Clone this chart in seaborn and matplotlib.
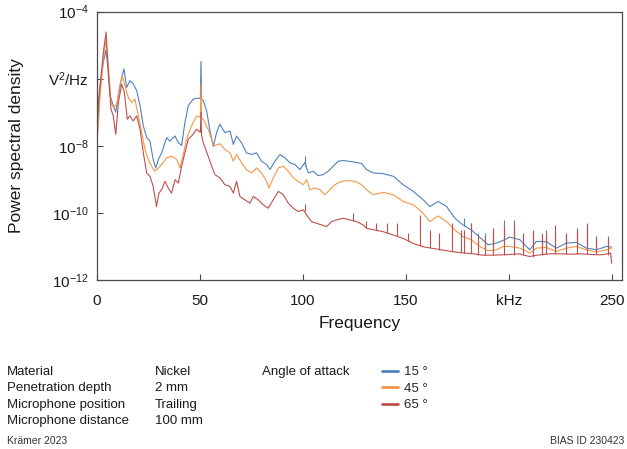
import numpy as np
import pandas as pd
import matplotlib
matplotlib.use('Agg')
import matplotlib.pyplot as plt
import seaborn as sns

# --- data (log10 of PSD in V^2/Hz) ---
angles = ['15 °', '45 °', '65 °']
colors = ['#4f81bd', '#f79646', '#c0504d']

freq_15 = [0.0, 0.5, 1.5, 3.1, 4.4, 5.5, 6.3, 7.9, 9.1, 10.4,
           12.0, 13.1, 14.4, 16.0, 17.6, 19.3, 20.9, 22.5, 24.1, 25.7,
           27.3, 28.5, 29.8, 31.4, 33.8, 35.4, 37.9, 39.5, 41.1, 42.7,
           44.3, 46.7, 49.2, 50.2, 50.5, 50.8, 51.6, 53.2, 54.9, 56.5,
           58.1, 59.7, 62.1, 64.6, 66.2, 67.8, 70.2, 72.6, 75.1, 77.5,
           79.9, 82.4, 84.0, 86.4, 88.9, 91.3, 93.7, 96.1, 98.6, 101.0,
           102.6, 105.0, 107.4, 109.9, 112.3, 114.7, 117.2, 119.6, 122.0, 125.3,
           128.5, 130.9, 134.1, 139.0, 143.9, 148.7, 153.6, 158.4, 161.7, 165.7,
           169.8, 173.8, 177.8, 181.9, 185.9, 190.0, 194.0, 197.3, 200.5, 205.4,
           210.2, 213.4, 218.3, 223.1, 228.0, 232.8, 237.7, 242.6, 247.4, 250.0]
lg_15 = [-8.0, -7.1, -6.2, -5.5, -5.16, -5.8, -6.5, -6.8, -7.0, -6.5,
         -5.96, -5.71, -6.26, -6.06, -6.16, -6.36, -6.81, -7.41, -7.75, -7.86,
         -8.41, -8.66, -8.41, -8.21, -7.76, -7.86, -7.71, -7.91, -7.99, -7.31,
         -6.81, -6.61, -6.58, -6.6, -5.49, -6.62, -6.65, -6.95, -7.56, -8.02,
         -7.6, -7.36, -7.61, -7.56, -7.96, -7.71, -7.91, -8.21, -8.26, -8.21,
         -8.46, -8.56, -8.71, -8.46, -8.26, -8.36, -8.51, -8.56, -8.71, -8.5,
         -8.81, -8.76, -8.89, -8.86, -8.76, -8.61, -8.46, -8.44, -8.46, -8.49,
         -8.53, -8.71, -8.81, -8.83, -8.91, -9.16, -9.36, -9.61, -9.81, -9.66,
         -9.81, -10.16, -10.36, -10.51, -10.73, -10.95, -10.9, -10.82, -10.72, -10.8,
         -11.1, -10.85, -10.86, -11.05, -10.9, -10.88, -11.05, -11.1, -11.0, -11.02]

freq_45 = [0.0, 0.5, 1.5, 3.1, 4.4, 5.5, 6.8, 7.9, 9.6, 11.2,
           12.3, 13.6, 15.2, 16.8, 18.4, 20.1, 21.7, 23.3, 24.9, 26.5,
           28.1, 29.8, 31.4, 33.8, 36.2, 38.7, 40.3, 41.9, 43.5, 45.9,
           48.4, 50.2, 50.5, 50.8, 51.6, 54.0, 56.5, 57.3, 59.7, 62.1,
           64.6, 66.2, 67.8, 70.2, 72.6, 75.1, 77.5, 79.9, 82.4, 83.5,
           85.6, 88.1, 90.5, 92.9, 95.3, 97.7, 100.2, 101.8, 103.4, 105.8,
           108.3, 110.7, 113.1, 115.5, 118.8, 122.0, 125.3, 128.5, 130.9, 134.1,
           139.0, 143.9, 148.7, 153.6, 157.6, 161.7, 165.7, 169.8, 173.8, 177.8,
           181.9, 185.9, 190.0, 194.0, 197.3, 200.5, 205.4, 210.2, 213.4, 218.3,
           223.1, 228.0, 232.8, 237.7, 242.6, 247.4, 250.0]
lg_45 = [-7.9, -7.5, -6.51, -5.41, -4.85, -5.61, -6.70, -6.86, -6.76, -6.16,
         -5.91, -6.21, -6.56, -6.71, -6.61, -7.11, -7.61, -8.11, -8.41, -8.61,
         -8.76, -8.66, -8.56, -8.36, -8.31, -8.41, -8.66, -8.26, -7.81, -7.41,
         -7.11, -7.15, -6.16, -7.2, -7.21, -7.51, -7.96, -7.99, -7.94, -8.11,
         -8.21, -8.46, -8.26, -8.51, -8.71, -8.81, -8.66, -8.81, -9.06, -9.26,
         -8.96, -8.66, -8.61, -8.76, -8.96, -9.06, -9.16, -9.01, -9.31, -9.26,
         -9.31, -9.46, -9.31, -9.16, -9.06, -9.04, -9.06, -9.16, -9.31, -9.46,
         -9.39, -9.46, -9.66, -9.76, -9.96, -10.26, -10.09, -10.26, -10.51, -10.71,
         -10.81, -11.0, -11.13, -11.1, -11.0, -11.0, -11.05, -11.2, -11.05, -11.03,
         -11.15, -11.05, -11.0, -11.1, -11.17, -11.1, -11.05]

freq_65 = [0.0, 0.5, 1.5, 3.1, 4.4, 5.5, 6.8, 7.9, 9.1, 10.4,
           12.0, 13.3, 14.7, 16.0, 17.6, 19.3, 20.9, 22.5, 24.1, 25.7,
           27.3, 28.9, 30.1, 31.4, 33.0, 34.6, 36.2, 37.9, 39.5, 41.1,
           42.7, 44.3, 46.7, 48.4, 50.2, 50.5, 50.8, 51.6, 54.0, 55.7,
           57.3, 59.7, 62.1, 64.6, 66.2, 67.8, 69.4, 71.8, 74.3, 75.9,
           78.3, 80.7, 83.2, 85.6, 88.1, 90.5, 92.9, 95.3, 97.7, 100.2,
           101.8, 104.2, 106.6, 109.1, 111.5, 113.9, 116.4, 119.6, 122.8, 126.1,
           129.3, 130.9, 134.9, 139.0, 143.9, 148.7, 153.6, 158.4, 163.3, 168.2,
           173.0, 177.8, 182.7, 187.5, 192.4, 200.5, 205.0, 210.0, 215.0, 220.0,
           225.0, 230.0, 235.0, 240.0, 245.0, 249.5, 250.0]
lg_65 = [-7.7, -6.8, -6.21, -5.21, -4.61, -5.81, -6.91, -7.11, -7.66, -6.71,
         -6.16, -6.41, -7.21, -7.11, -7.26, -7.11, -7.51, -8.21, -8.81, -8.91,
         -9.21, -9.81, -9.41, -9.31, -9.06, -9.26, -9.41, -9.01, -9.11, -8.61,
         -8.21, -7.81, -7.66, -7.51, -7.6, -7.0, -7.7, -7.91, -8.31, -8.61,
         -8.86, -8.96, -9.16, -9.21, -9.41, -9.06, -9.51, -9.61, -9.71, -9.51,
         -9.61, -9.76, -9.86, -9.61, -9.36, -9.46, -9.71, -9.86, -9.96, -9.91,
         -10.06, -10.26, -10.31, -10.36, -10.41, -10.26, -10.21, -10.16, -10.21, -10.26,
         -10.36, -10.46, -10.51, -10.56, -10.66, -10.76, -10.91, -11.01, -11.06, -11.11,
         -11.16, -11.19, -11.22, -11.26, -11.26, -11.24, -11.22, -11.3, -11.25, -11.22,
         -11.22, -11.23, -11.22, -11.24, -11.25, -11.2, -11.5]

# narrow interference spikes: frequency, foot and tip (log10)
spike_f_15 = [100.8, 178.5, 181.5, 185.0, 188.3, 192.4, 197.6, 202.5, 206.9, 212.0,
              216.0, 218.3, 222.3, 228.0, 232.9, 238.0, 242.6, 248.2]
spike_lo_15 = [-8.6, -10.4, -10.5, -10.7, -10.85, -10.95, -10.85, -10.75, -10.9, -11.0,
               -10.9, -10.86, -11.0, -10.9, -10.88, -11.0, -11.1, -11.0]
spike_hi_15 = [-8.3, -10.15, -10.3, -10.6, -10.6, -10.5, -10.22, -10.2, -10.7, -10.5,
               -10.6, -10.5, -10.6, -10.65, -10.45, -10.4, -10.75, -10.7]

spike_f_45 = [178.5, 181.5, 185.0, 188.3, 192.4, 197.6, 202.5, 206.9, 212.0, 216.0,
              218.3, 222.3, 228.0, 232.9, 238.0, 242.6, 248.2]
spike_lo_45 = [-10.7, -10.8, -10.95, -11.05, -11.1, -11.0, -11.0, -11.1, -11.15, -11.1,
               -11.03, -11.1, -11.05, -11.0, -11.1, -11.15, -11.1]
spike_hi_45 = [-10.55, -10.45, -10.7, -10.7, -10.6, -10.4, -10.35, -10.8, -10.6, -10.7,
               -10.6, -10.5, -10.7, -10.55, -10.45, -10.8, -10.8]

spike_f_65 = [101.0, 124.5, 130.5, 135.5, 141.0, 145.8, 151.0, 156.8, 161.7, 166.0,
              172.2, 177.0, 178.5, 181.5, 185.0, 188.3, 192.4, 197.6, 202.5, 206.9,
              212.0, 216.0, 218.3, 222.3, 228.0, 232.9, 238.0, 242.6, 248.2]
spike_lo_65 = [-9.95, -10.25, -10.45, -10.5, -10.6, -10.7, -10.85, -11.0, -11.05, -11.1,
               -11.15, -11.2, -11.2, -11.2, -11.25, -11.26, -11.26, -11.25, -11.25, -11.25,
               -11.3, -11.25, -11.24, -11.22, -11.22, -11.23, -11.22, -11.24, -11.25]
spike_hi_65 = [-9.75, -10.0, -10.25, -10.3, -10.3, -10.3, -10.6, -10.05, -10.5, -10.6,
               -10.3, -10.5, -10.5, -10.3, -10.7, -10.7, -10.44, -10.4, -10.35, -10.6,
               -10.55, -10.65, -10.6, -10.36, -10.6, -10.5, -10.3, -10.7, -10.75]

x_ticks = [0, 50, 100, 150, 200, 250]
x_ticklabels = ['0', '50', '100', '150', 'kHz', '250']
y_ticks = [1e-12, 1e-10, 1e-8, 1e-6, 1e-4]
y_ticklabels = [r'$\mathdefault{10^{-12}}$', r'$\mathdefault{10^{-10}}$',
                r'$\mathdefault{10^{-8}}$', r'V$\mathdefault{^2}$/Hz',
                r'$\mathdefault{10^{-4}}$']

info_keys = ['Material', 'Penetration depth', 'Microphone position', 'Microphone distance']
info_vals = ['Nickel', '2 mm', 'Trailing', '100 mm']

# --- build long-form table ---
frames = []
for ang, f, lg in zip(angles, [freq_15, freq_45, freq_65], [lg_15, lg_45, lg_65]):
    frames.append(pd.DataFrame({'Frequency': f, 'PSD': 10.0 ** np.array(lg), 'Angle': ang}))
df = pd.concat(frames, ignore_index=True)

sns.set_theme(style='ticks')
plt.rcParams['font.family'] = ['Liberation Sans', 'DejaVu Sans']
plt.rcParams['mathtext.fontset'] = 'custom'
plt.rcParams['mathtext.rm'] = 'Liberation Sans'
plt.rcParams['xtick.direction'] = 'in'
plt.rcParams['ytick.direction'] = 'in'
txt_col = '#1a1a1a'
spine_col = '#4a4a4a'

fig = plt.figure(figsize=(6.27, 4.49), dpi=100)
ax = fig.add_axes([97 / 627, 1 - 280 / 449, 525 / 627, 268.5 / 449])

sns.lineplot(data=df, x='Frequency', y='PSD', hue='Angle', palette=colors,
             estimator=None, linewidth=0.8, ax=ax)

for sf, lo, hi, c in [(spike_f_15, spike_lo_15, spike_hi_15, colors[0]),
                      (spike_f_45, spike_lo_45, spike_hi_45, colors[1]),
                      (spike_f_65, spike_lo_65, spike_hi_65, colors[2])]:
    ax.vlines(sf, 10.0 ** np.array(lo), 10.0 ** np.array(hi), color=c, linewidth=0.8)

ax.set_yscale('log')
ax.set_xlim(0, 255)
ax.set_ylim(1e-12, 1e-4)
ax.yaxis.set_minor_locator(plt.NullLocator())
ax.set_xticks(x_ticks)
ax.set_xticklabels(x_ticklabels)
ax.set_yticks(y_ticks)
ax.set_yticklabels(y_ticklabels)
ax.tick_params(labelsize=11, length=4, width=0.8, color=spine_col, labelcolor=txt_col)
ax.tick_params(axis='x', pad=10)
ax.tick_params(axis='y', pad=6)
for s in ax.spines.values():
    s.set_color(spine_col)
    s.set_linewidth(0.9)

ax.set_xlabel('Frequency', fontsize=12.5, color=txt_col, labelpad=6)
ax.set_ylabel('Power spectral density', fontsize=12.5, color=txt_col, labelpad=17)

leg = ax.legend(loc='upper left', bbox_to_anchor=(382 / 627, 1 - 366 / 449),
                bbox_transform=fig.transFigure, frameon=False, fontsize=9.5,
                handlelength=1.2, handletextpad=0.5, labelspacing=0.33,
                borderpad=0, borderaxespad=0, title=None)
for ln in leg.get_lines():
    ln.set_linewidth(2.0)

# --- info block below the chart ---
for i, (k, v) in enumerate(zip(info_keys, info_vals)):
    yy = 1 - (372 + 16.3 * i) / 449
    fig.text(7 / 627, yy, k, fontsize=9.5, va='center', color=txt_col)
    fig.text(155 / 627, yy, v, fontsize=9.5, va='center', color=txt_col)
fig.text(262 / 627, 1 - 372 / 449, 'Angle of attack', fontsize=9.5, va='center', color=txt_col)

fig.text(7 / 627, 1 - 441 / 449, 'Krämer 2023', fontsize=7.5, va='center', color='#333333')
fig.text(624 / 627, 1 - 441 / 449, 'BIAS ID 230423', fontsize=7.5, va='center', ha='right',
         color='#333333')

fig.savefig('out.png', dpi=100)
